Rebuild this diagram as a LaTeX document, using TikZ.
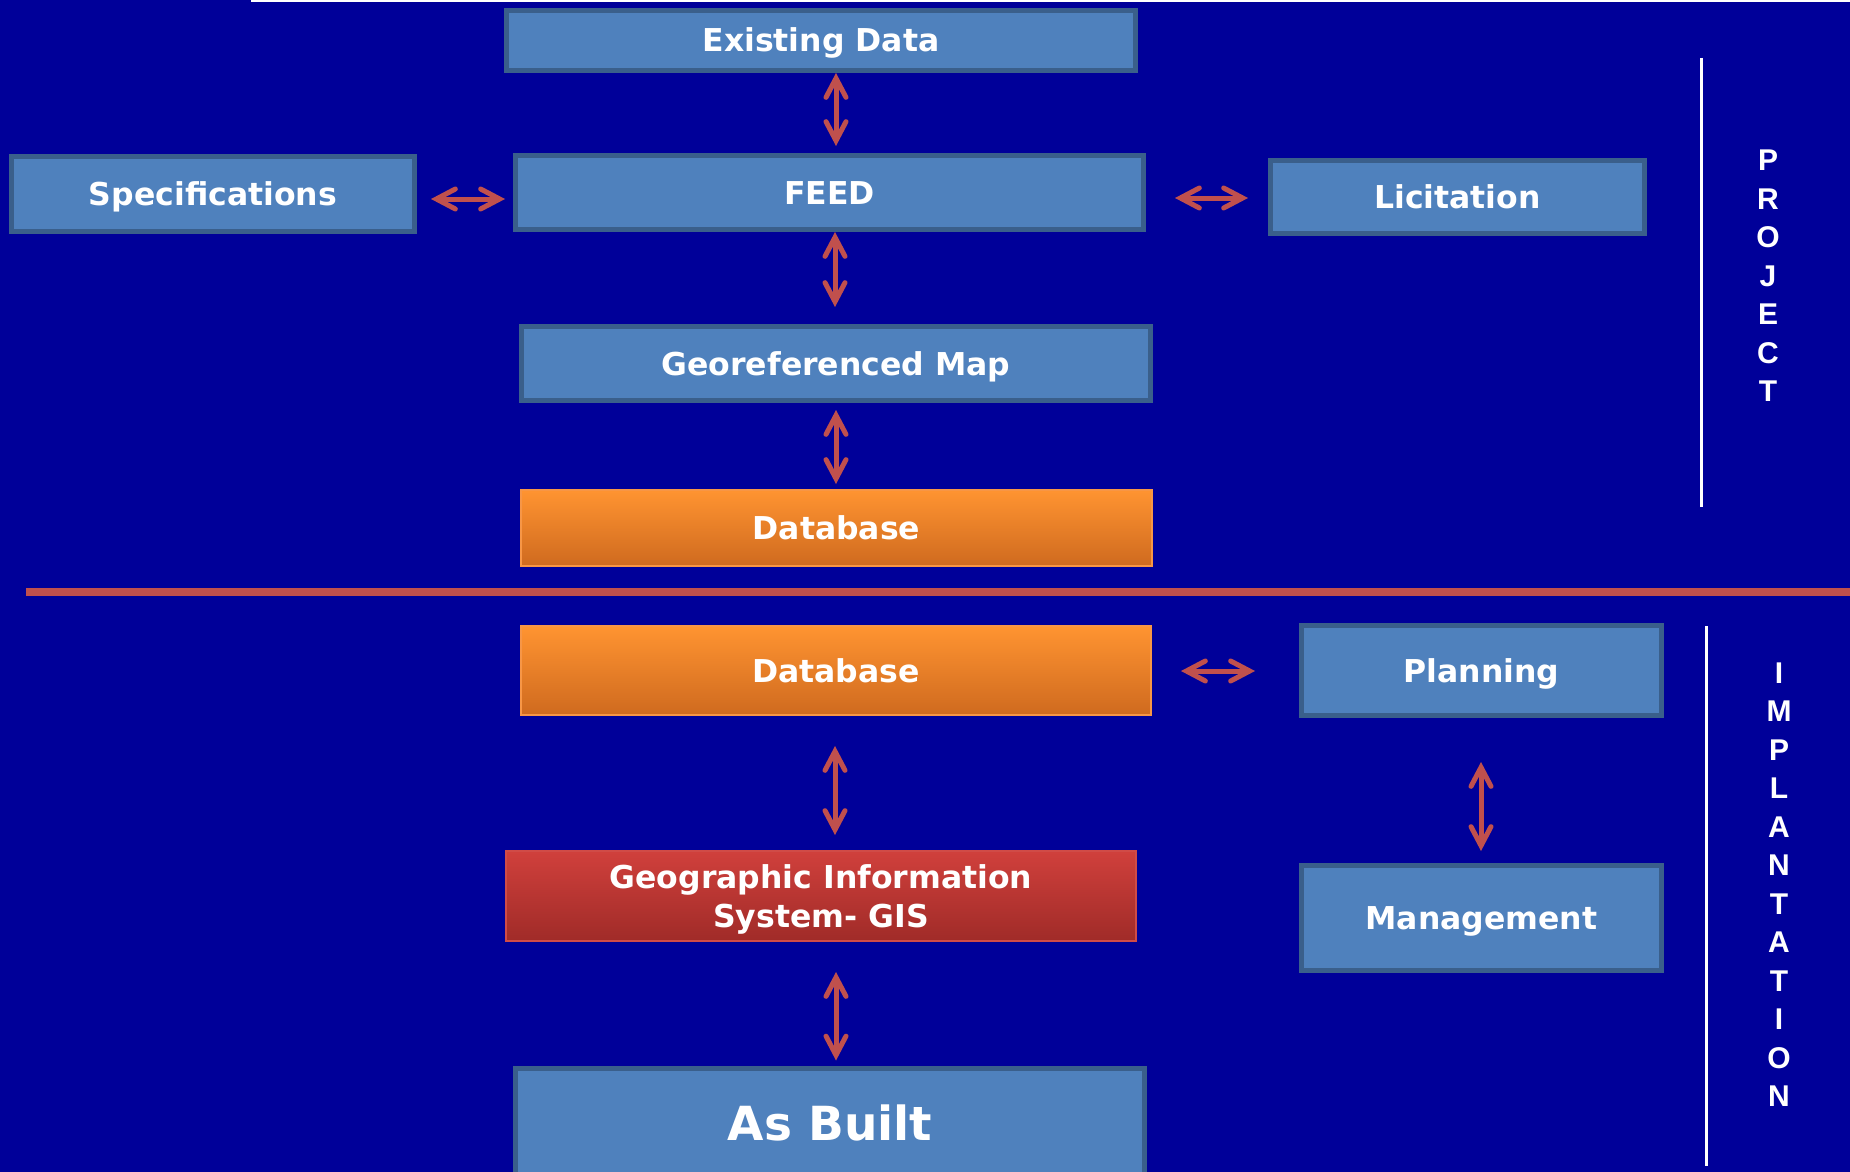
\documentclass[tikz,border=0pt]{standalone}
\usepackage{fontspec}
\setmainfont{DejaVu Sans}
\newfontfamily\sidefont{Liberation Sans}
\usetikzlibrary{arrows.meta}
\definecolor{bg}{HTML}{000099}
\definecolor{boxblue}{HTML}{4F81BD}
\definecolor{boxedge}{HTML}{3A5F8B}
\definecolor{arrred}{HTML}{C0504D}
\definecolor{orangetop}{HTML}{FF9431}
\definecolor{orangebot}{HTML}{CF6A1F}
\definecolor{orangeedge}{HTML}{F79646}
\definecolor{redtop}{HTML}{D0403C}
\definecolor{redbot}{HTML}{A02B28}
\definecolor{rededge}{HTML}{D04B47}
\tikzset{
  label/.style={text=white, font=\fontsize{31.5}{39}\bfseries\selectfont, inner sep=0pt, align=center},
  oneline/.style={text height=23pt, text depth=0pt},
  bluebox/.style={label, oneline, draw=boxedge, fill=boxblue, line width=5pt},
  orangebox/.style={label, oneline, draw=orangeedge, line width=2pt, top color=orangetop, bottom color=orangebot},
  redbox/.style={label, text depth=0pt, draw=rededge, line width=2pt, top color=redtop, bottom color=redbot},
  tipA/.tip={Straight Barb[length=19pt,width=20pt,line cap=round,line join=miter]},
  arr/.style={draw=arrred, line width=5pt, tipA-tipA},
  side/.style={text=white, font=\sidefont\bfseries\fontsize{30}{38.5}\selectfont, align=center, inner sep=0pt},
  sideline/.style={draw=white, line width=3pt}
}
\begin{document}
\begin{tikzpicture}[x=1pt,y={(0pt,-1pt)}]
\fill[bg] (0,0) rectangle (1850,1172);
\useasboundingbox (0,0) rectangle (1850,1172);
\clip (0,0) rectangle (1850,1172);

% separators
\draw[sideline] (251,1) -- (1850,1);
\draw[draw=arrred, line width=8pt] (26,592) -- (1850,592);
\draw[sideline] (1701,58) -- (1701,507);
\draw[sideline] (1706,626) -- (1706,1166);

% project part
\node[bluebox, minimum width=629pt, minimum height=60pt] (ed) at (821,40.5) {Existing Data};
\node[bluebox, minimum width=403pt, minimum height=75pt] (spec) at (213,194) {Specifications};
\node[bluebox, minimum width=628pt, minimum height=74pt] (feed) at (829.5,192.5) {FEED};
\node[bluebox, minimum width=374pt, minimum height=73pt] (lic) at (1457.5,197) {Licitation};
\node[bluebox, minimum width=629pt, minimum height=74pt] (geo) at (836,363.5) {Georeferenced Map};
\node[orangebox, minimum width=631pt, minimum height=76pt] (db1) at (836.5,528) {Database};

% implantation part
\node[orangebox, minimum width=630pt, minimum height=89pt] (db2) at (836,670.5) {Database};
\node[bluebox, minimum width=360pt, minimum height=90pt] (plan) at (1481.5,670.5) {Planning};
\node[bluebox, minimum width=360pt, minimum height=105pt] (mgmt) at (1481.5,918) {Management};
\node[redbox, minimum width=630pt, minimum height=90pt] (gis) at (821,896) {Geographic Information\\System- GIS};
\node[bluebox, minimum width=629pt, minimum height=111pt, font=\fontsize{47}{52}\bfseries\selectfont, text height=34.3pt] (asb) at (830,1123.5) {As Built};

% side labels
\node[side] (proj) at (1768,276) {P\\R\\O\\J\\E\\C\\T};
\node[side] (impl) at (1779,884.5) {I\\M\\P\\L\\A\\N\\T\\A\\T\\I\\O\\N};

% connector guides
\coordinate (cx) at (836,0);
\coordinate (cx2) at (835,0);
\coordinate (px) at (1481,0);
\coordinate (r1) at (0,199);
\coordinate (r2) at (0,198);
\coordinate (r3) at (0,671);

% connectors
\draw[arr, shorten >=7pt] (ed.south -| cx) -- (feed.north -| cx);
\draw[arr, shorten <=14pt, shorten >=8pt] (spec.east |- r1) -- (feed.west |- r1);
\draw[arr, shorten <=29pt, shorten >=20pt] (feed.east |- r2) -- (lic.west |- r2);
\draw[arr, shorten >=17pt] (feed.south -| cx2) -- (geo.north -| cx2);
\draw[arr, shorten <=7pt, shorten >=5pt] (geo.south -| cx) -- (db1.north -| cx);
\draw[arr, shorten <=29pt, shorten >=44pt] (db2.east |- r3) -- (plan.west |- r3);
\draw[arr, shorten <=44pt, shorten >=12pt] (plan.south -| px) -- (mgmt.north -| px);
\draw[arr, shorten <=30pt, shorten >=15pt] (db2.south -| cx2) -- (gis.north -| cx2);
\draw[arr, shorten <=30pt, shorten >=5pt] (gis.south -| cx) -- (asb.north -| cx);
\end{tikzpicture}
\end{document}
